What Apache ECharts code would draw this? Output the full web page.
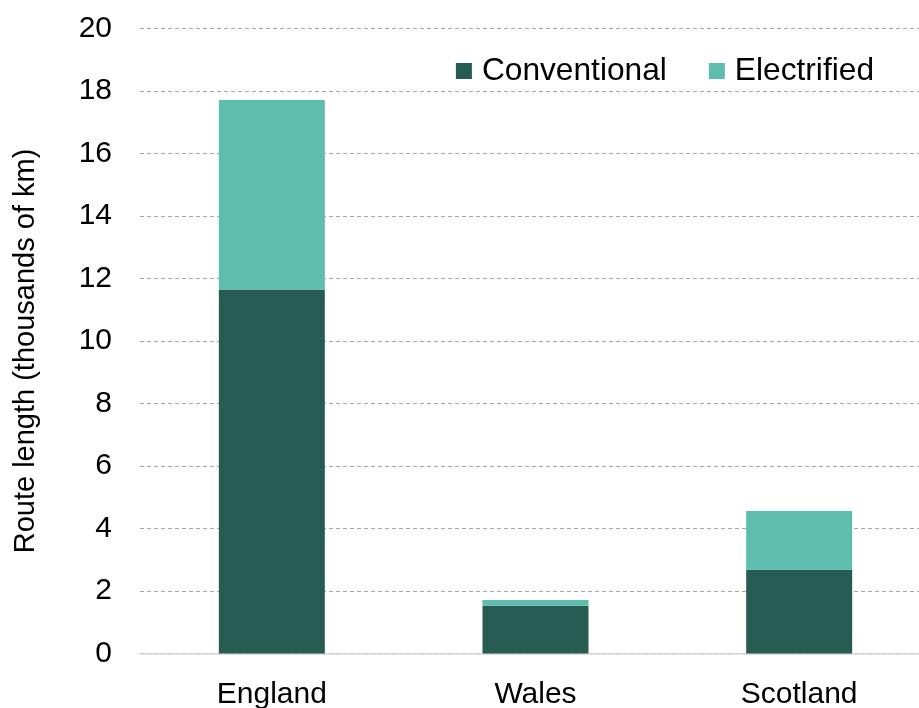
<!DOCTYPE html>
<html><head><meta charset="utf-8">
<script src="https://cdn.jsdelivr.net/npm/echarts@6/dist/echarts.min.js"></script>
<style>html,body{margin:0;padding:0;background:#fff}#c{width:919px;height:708px}</style>
</head><body><div id="c"></div>
<script>
const categories = ['England', 'Wales', 'Scotland'];
const conventional = [11.65, 1.53, 2.68];
const electrified = [6.06, 0.18, 1.88];
const yTicks = { min: 0, max: 20, interval: 2 };

const chart = echarts.init(document.getElementById('c'));
const font = '"Liberation Sans", Arial, sans-serif';
chart.setOption({
  animation: false,
  textStyle: { fontFamily: font },
  grid: { left: 140, width: 791, top: 28.5, bottom: 54.5, containLabel: false, outerBoundsMode: 'none' },
  legend: {
    top: 50, right: 40, itemWidth: 16, itemHeight: 16, itemGap: 42,
    icon: 'rect',
    textStyle: { fontSize: 31.7, color: '#000', fontFamily: font, padding: [0, 0, 0, 5] },
    data: ['Conventional', 'Electrified']
  },
  xAxis: {
    type: 'category', data: categories,
    axisLine: { lineStyle: { color: '#d9d9d9', width: 1.5 } },
    axisTick: { show: false },
    axisLabel: { fontSize: 30, color: '#000', margin: 26, fontFamily: font }
  },
  yAxis: {
    type: 'value', min: yTicks.min, max: yTicks.max, interval: yTicks.interval,
    name: 'Route length (thousands of km)', nameLocation: 'middle', nameGap: 100,
    nameTextStyle: { fontSize: 29, color: '#000', fontFamily: font, padding: [0, 20, 0, 0] },
    axisLine: { show: false }, axisTick: { show: false },
    axisLabel: { fontSize: 30, color: '#000', margin: 28, fontFamily: font },
    splitLine: { lineStyle: { color: '#a6a6a6', type: [4, 3], width: 1 } }
  },
  series: [
    { name: 'Conventional', type: 'bar', stack: 's', data: conventional, barWidth: '40.2%',
      itemStyle: { color: '#275c53' } },
    { name: 'Electrified', type: 'bar', stack: 's', data: electrified, barWidth: '40.2%',
      itemStyle: { color: '#5fbdae' } }
  ]
});
</script></body></html>
